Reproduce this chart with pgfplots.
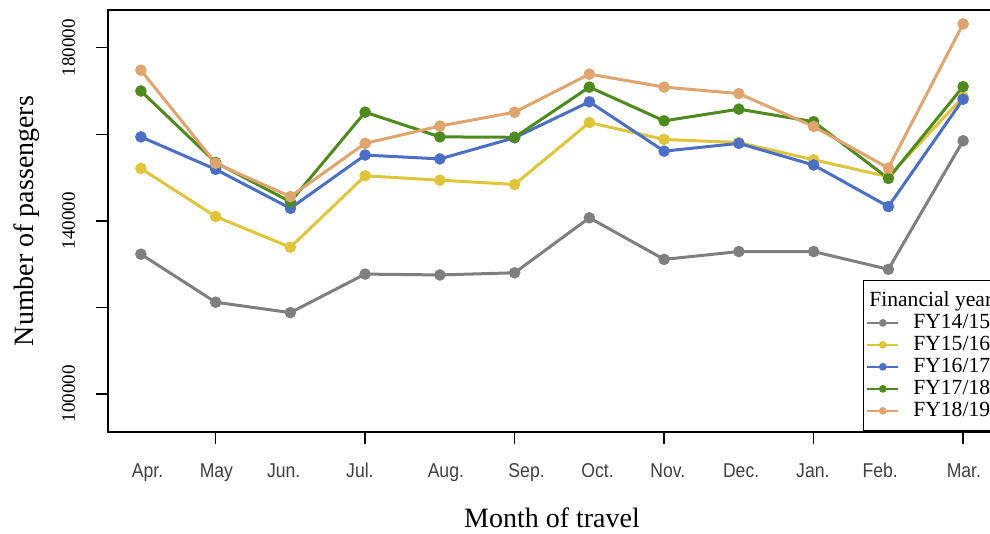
\documentclass[border=0pt]{standalone}
\usepackage{pgfplots}
\usepackage{pgfplotstable}
\pgfplotsset{compat=1.18}
\usepackage{fontspec}
\setmainfont{Liberation Serif}
\newfontfamily\monthfont[FakeStretch=0.88]{Liberation Sans}

\definecolor{fyA}{HTML}{7F7F7F}
\definecolor{fyB}{HTML}{E0C53C}
\definecolor{fyC}{HTML}{4A6FC4}
\definecolor{fyD}{HTML}{4E8A1E}
\definecolor{fyE}{HTML}{E0A46E}

% monthly passengers, months numbered from April (0) to March (11)
\pgfplotstableread{
m  fyA     fyB     fyC     fyD     fyE
0  132300  152100  159400  170000  174800
1  121200  141000  151900  153500  153300
2  118800  133900  142900  144400  145600
3  127700  150400  155200  165100  157900
4  127500  149400  154300  159400  161900
5  128000  148400  159200  159300  165100
6  140700  162700  167500  170900  173900
7  131100  158800  156100  163100  170900
8  132900  158100  157900  165800  169400
9  132900  154100  152900  162900  161800
10 128800  150200  143300  149800  152200
11 158500  168600  168100  171000  185500
}\passengers

\begin{document}
\begin{tikzpicture}
\begin{axis}[
  scale only axis, width=444pt, height=211pt,
  xmin=-0.44, xmax=11.44, ymin=91220, ymax=188710,
  axis line style={line width=0.75pt},
  tick style={line width=0.7pt, black},
  tick align=outside,
  major tick length=6pt,
  xtick pos=left, ytick pos=left,
  xtick={1,3,5,7,9,11}, xticklabels={},
  extra x ticks={0.09,1.01,1.91,2.93,4.08,5.16,6.11,7.05,8.03,8.99,9.89,11.01},
  extra x tick labels={Apr.,May,Jun.,Jul.,Aug.,Sep.,Oct.,Nov.,Dec.,Jan.,Feb.,Mar.},
  extra x tick style={major tick length=0pt,
    xticklabel style={font=\monthfont\fontsize{10}{12}\selectfont, text=black!75,
      anchor=base, yshift=-23pt}},
  ytick={100000,120000,140000,160000,180000},
  yticklabels={100000,,140000,,180000},
  scaled y ticks=false,
  yticklabel style={font=\fontsize{9.5}{11}\selectfont, rotate=90, anchor=base, yshift=10.5pt},
  xlabel={Month of travel},
  ylabel={Number of passengers},
  every axis x label/.style={at={(axis description cs:0.5,-0.2275)}, anchor=base,
    font=\fontsize{14}{16}\selectfont},
  every axis y label/.style={at={(axis description cs:-0.0912,0.5)}, rotate=90, anchor=center,
    font=\fontsize{14}{16}\selectfont},
  every axis plot/.append style={line width=1.5pt, mark=*, mark size=2.1pt, mark options={solid}},
  legend style={at={(1,0)}, anchor=south east, draw=black, line width=0.75pt,
    font=\fontsize{10.8}{13}\selectfont, inner xsep=1.5pt, inner ysep=4.7pt,
    row sep=0pt, column sep=7pt,
    nodes={inner sep=0pt, text height=8.1pt, text depth=2.9pt}, cells={anchor=west}},
  legend cell align=left,
  legend image code/.code={\draw[mark repeat=2,mark phase=2]
    plot coordinates {(0pt,0pt) (7.75pt,0pt) (15.5pt,0pt)};},
  legend image post style={line width=1pt, mark size=1.4pt},
]
\addlegendimage{empty legend}
\addlegendentry{\hspace{-22pt}Financial year}
\addplot[color=fyA] table[x=m, y=fyA] {\passengers};
\addlegendentry{FY14/15}
\addplot[color=fyB] table[x=m, y=fyB] {\passengers};
\addlegendentry{FY15/16}
\addplot[color=fyC] table[x=m, y=fyC] {\passengers};
\addlegendentry{FY16/17}
\addplot[color=fyD] table[x=m, y=fyD] {\passengers};
\addlegendentry{FY17/18}
\addplot[color=fyE] table[x=m, y=fyE] {\passengers};
\addlegendentry{FY18/19}
\end{axis}
\pgfresetboundingbox
\useasboundingbox ([xshift=-54pt,yshift=-51pt]current axis.south west)
  rectangle ([xshift=-3pt,yshift=5pt]current axis.north east);
\end{tikzpicture}
\end{document}
